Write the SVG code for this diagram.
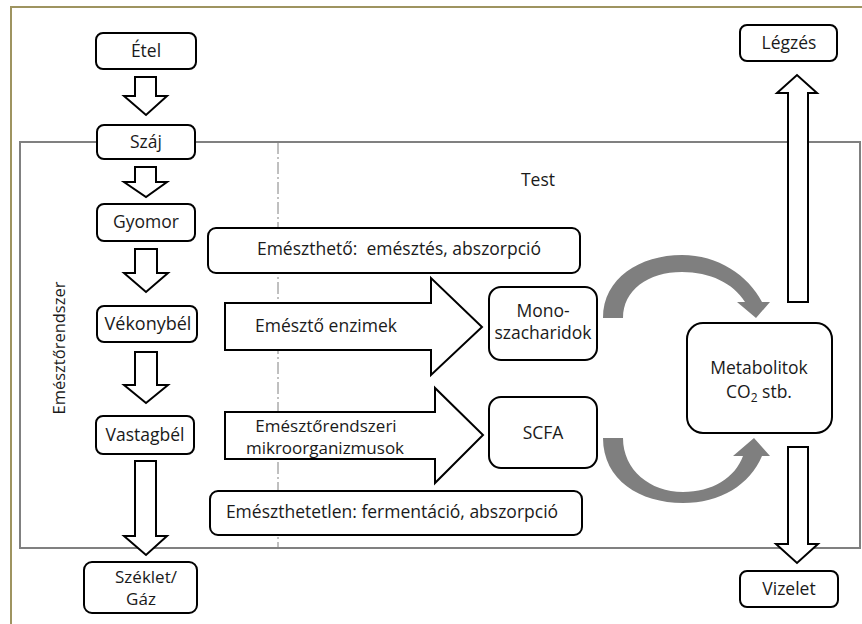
<svg xmlns="http://www.w3.org/2000/svg" width="862" height="624" viewBox="0 0 862 624">
<style>
.box{fill:#fff;stroke:#000;stroke-width:2}
.harr{fill:#fff;stroke:#000;stroke-width:2;stroke-linejoin:miter}
.garr{fill:#7f7f7f;stroke:none}
text{font-family:"Open Sans","Liberation Sans",sans-serif;font-size:17.5px;fill:#1a1a1a}
.c{text-anchor:middle}
.two{font-size:17px}
</style>
<rect x="0" y="0" width="862" height="624" fill="#fff"/>
<path d="M11,624 L11,7 L862,7" fill="none" stroke="#9e9460" stroke-width="2"/>
<g id="test">
<rect x="20" y="142" width="840" height="406" fill="none" stroke="#808080" stroke-width="2"/>
<line x1="278" y1="142" x2="278" y2="548" stroke="#808080" stroke-width="1" stroke-dasharray="12 3 2 3"/>
<text x="538" y="186" class="c">Test</text>
<text transform="translate(65,348) rotate(-90)" class="c" style="font-size:16.5px">Emésztőrendszer</text>
</g>
<g id="connectors">
<path class="harr" d="M135,77 L156,77 L156,96 L167,96 L146,115 L124,96 L135,96 Z"/>
<path class="harr" d="M135,167 L156,167 L156,182 L167,182 L146,197 L124,182 L135,182 Z"/>
<path class="harr" d="M135,249 L157,249 L157,273 L168,273 L146,292 L124,273 L135,273 Z"/>
<path class="harr" d="M135,352 L157,352 L157,385 L168,385 L146,403 L124,385 L135,385 Z"/>
<path class="harr" d="M135,461 L156,461 L156,536 L167,536 L146,555 L124,536 L135,536 Z"/>
<path class="harr" d="M225,303 L431,303 L431,278 L482,327 L431,375 L431,350 L225,350 Z"/>
<path class="harr" d="M225,412 L435,412 L435,388 L483,435 L435,483 L435,459 L225,459 Z"/>
<path class="harr" d="M788,302 L788,93 L777,93 L797,75 L817,93 L808,93 L808,302 Z"/>
<path class="harr" d="M788,447 L808,447 L808,544 L818,544 L797,563 L776,544 L788,544 Z"/>
<path class="garr" d="M603,318 C603,278 640,255 682,255 C718,255 748,275 762,302 L770,302 L756,318 L737,302 L745,302 C733,283 710,272 682,272 C648,272 623,290 623,318 Z"/>
<path class="garr" d="M603,438 L623,438 C623,470 650,492 683,492 C712,492 735,478 743,456 L733,456 L754,438 L770,456 L762,456 C750,485 720,503 683,503 C640,503 603,480 603,438 Z"/>
</g>
<g id="etel"><rect class="box" x="96" y="33" width="100" height="36" rx="7"/><text x="146" y="57" class="c">Étel</text></g>
<g id="szaj"><rect class="box" x="97" y="125" width="98" height="34" rx="7"/><text x="146" y="148" class="c">Száj</text></g>
<g id="gyomor"><rect class="box" x="97" y="204" width="98" height="37" rx="7"/><text x="146" y="228" class="c">Gyomor</text></g>
<g id="vekonybel"><rect class="box" x="97" y="306" width="100" height="36" rx="7"/><text x="148" y="330" class="c" style="font-size:18px">Vékonybél</text></g>
<g id="vastagbel"><rect class="box" x="96" y="416" width="98" height="38" rx="7"/><text x="145" y="441" class="c">Vastagbél</text></g>
<g id="szeklet"><rect class="box" x="84" y="562" width="113" height="51" rx="8"/><text x="146" y="583" class="c two">Széklet/</text><text x="141" y="605" class="c two">Gáz</text></g>
<g id="emeszthető"><rect class="box" x="208" y="228" width="372" height="45" rx="8"/><text x="399" y="255" class="c">Emészthető:&#160; emésztés, abszorpció</text></g>
<g id="emeszthetetlen"><rect class="box" x="210" y="491" width="372" height="44" rx="8"/><text x="392" y="518" class="c">Emészthetetlen: fermentáció, abszorpció</text></g>
<g id="enzimek"><text x="326" y="332" class="c">Emésztő enzimek</text></g>
<g id="mikroorganizmusok"><text x="326" y="432" class="c two">Emésztőrendszeri</text><text x="325" y="454" class="c two">mikroorganizmusok</text></g>
<g id="mono"><rect class="box" x="489" y="287" width="108" height="73" rx="12"/><text x="543" y="317" class="c">Mono-</text><text x="543" y="339" class="c">szacharidok</text></g>
<g id="scfa"><rect class="box" x="489" y="397" width="108" height="71" rx="12"/><text x="543" y="439" class="c">SCFA</text></g>
<g id="metabolitok"><rect class="box" x="687" y="323" width="145" height="110" rx="16"/><text x="759" y="374" class="c">Metabolitok</text><text x="759" y="398" class="c">CO<tspan font-size="12" dy="4">2</tspan><tspan dy="-4"> stb.</tspan></text></g>
<g id="legzes"><rect class="box" x="740" y="25" width="97" height="36" rx="7"/><text x="789" y="49" class="c">Légzés</text></g>
<g id="vizelet"><rect class="box" x="740" y="571" width="98" height="36" rx="7"/><text x="789" y="595" class="c">Vizelet</text></g>
</svg>
